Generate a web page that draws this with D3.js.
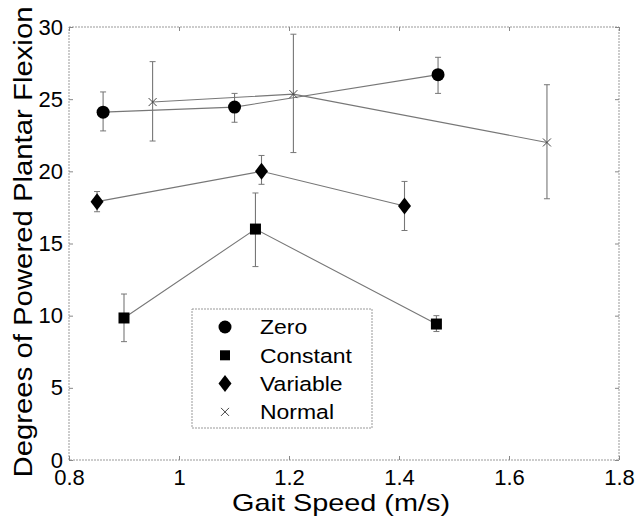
<!DOCTYPE html>
<html><head><meta charset="utf-8">
<script src="https://cdn.jsdelivr.net/npm/d3@7"></script>
<style>body{margin:0;background:#fff}svg{display:block}text{font-family:"Liberation Sans",Arial,sans-serif;fill:#000}</style>
</head><body><svg id="c" width="638" height="519"></svg>
<script>
const seriesNames = ["Zero","Constant","Variable","Normal"];
const zeroX = [0.862, 1.101, 1.471];
const zeroY = [24.1, 24.45, 26.7];
const zeroLo = [22.8, 23.4, 25.4];
const zeroHi = [25.5, 25.4, 27.9];
const constX = [0.90, 1.139, 1.468];
const constY = [9.84, 16.0, 9.42];
const constLo = [8.2, 13.4, 8.9];
const constHi = [11.5, 18.5, 10.0];
const varX = [0.851, 1.150, 1.410];
const varY = [17.9, 20.0, 17.6];
const varLo = [17.2, 19.1, 15.9];
const varHi = [18.6, 21.1, 19.3];
const normX = [0.952, 1.208, 1.669];
const normY = [24.8, 25.35, 22.0];
const normLo = [22.1, 21.3, 18.1];
const normHi = [27.6, 29.5, 26.0];
const xTicks = [0.8, 1, 1.2, 1.4, 1.6, 1.8];
const yTicks = [0, 5, 10, 15, 20, 25, 30];

const svg = d3.select("#c");
const L = 69, R = 619, T = 27, B = 460;
const x = d3.scaleLinear().domain([0.8, 1.8]).range([L, R]);
const y = d3.scaleLinear().domain([0, 30]).range([B, T]);

// frame
svg.append("rect").attr("x", L).attr("y", T).attr("width", R - L).attr("height", B - T)
  .attr("fill", "none").attr("stroke", "#999").attr("stroke-width", 1).attr("stroke-dasharray", "2,1");

// axes
const gx = svg.append("g").attr("transform", `translate(0,${B})`)
  .call(d3.axisBottom(x).tickValues(xTicks).tickFormat(d3.format("")).tickSize(-4).tickPadding(9));
const gxt = svg.append("g").attr("transform", `translate(0,${T})`)
  .call(d3.axisTop(x).tickValues(xTicks).tickFormat("").tickSize(-4));
const gy = svg.append("g").attr("transform", `translate(${L},0)`)
  .call(d3.axisLeft(y).tickValues(yTicks).tickSize(-4).tickPadding(6));
const gyr = svg.append("g").attr("transform", `translate(${R},0)`)
  .call(d3.axisRight(y).tickValues(yTicks).tickFormat("").tickSize(-4));
[gx, gxt, gy, gyr].forEach(g => {
  g.select(".domain").remove();
  g.selectAll(".tick line").attr("stroke", "#888");
  g.selectAll("text").attr("font-size", 22).attr("fill", "#000");
});
gx.selectAll("text").attr("dy", "0.71em");

// axis labels
svg.append("text").attr("x", 341).attr("y", 511).attr("text-anchor", "middle")
  .attr("font-size", 24).attr("textLength", 218).attr("lengthAdjust", "spacingAndGlyphs").text("Gait Speed (m/s)");
svg.append("text").attr("transform", `translate(32,242) rotate(-90)`)
  .attr("text-anchor", "middle").attr("font-size", 26.5).attr("textLength", 471).attr("lengthAdjust", "spacingAndGlyphs")
  .text("Degrees of Powered Plantar Flexion");

const series = [
  {name: "Zero", xs: zeroX, ys: zeroY, lo: zeroLo, hi: zeroHi, sym: "circle"},
  {name: "Constant", xs: constX, ys: constY, lo: constLo, hi: constHi, sym: "square"},
  {name: "Variable", xs: varX, ys: varY, lo: varLo, hi: varHi, sym: "diamond"},
  {name: "Normal", xs: normX, ys: normY, lo: normLo, hi: normHi, sym: "x"}
];

function drawMarker(g, sym, cx, cy, legend) {
  if (sym === "circle") g.append("circle").attr("cx", cx).attr("cy", cy).attr("r", 6.5).attr("fill", "#000");
  else if (sym === "square") { const h = legend ? 5 : 5.5; g.append("rect").attr("x", cx - h).attr("y", cy - h).attr("width", 2*h).attr("height", 2*h).attr("fill", "#000"); }
  else if (sym === "diamond") g.append("path").attr("d", `M${cx},${cy-8.5}L${cx+6.5},${cy}L${cx},${cy+8.5}L${cx-6.5},${cy}Z`).attr("fill", "#000");
  else g.append("path").attr("d", `M${cx-4},${cy-4}L${cx+4},${cy+4}M${cx-4},${cy+4}L${cx+4},${cy-4}`).attr("stroke", "#444").attr("stroke-width", 1);
}

const line = d3.line().x(d => x(d[0])).y(d => y(d[1]));
series.forEach(s => {
  const g = svg.append("g");
  const pts = s.xs.map((v, i) => [v, s.ys[i]]);
  g.append("path").attr("d", line(pts)).attr("fill", "none").attr("stroke", "#777").attr("stroke-width", 1.1);
  s.xs.forEach((v, i) => {
    const cx = x(v);
    g.append("line").attr("x1", cx).attr("x2", cx).attr("y1", y(s.lo[i])).attr("y2", y(s.hi[i])).attr("stroke", "#777").attr("stroke-width", 1.1);
    [s.lo[i], s.hi[i]].forEach(e => g.append("line").attr("x1", cx - 3).attr("x2", cx + 3).attr("y1", y(e)).attr("y2", y(e)).attr("stroke", "#777").attr("stroke-width", 1));
    drawMarker(g, s.sym, cx, y(s.ys[i]), false);
  });
});

// legend
const lg = svg.append("g");
lg.append("rect").attr("x", 192).attr("y", 309).attr("width", 180).attr("height", 119)
  .attr("fill", "#fff").attr("stroke", "#999").attr("stroke-dasharray", "2,1");
series.forEach((s, i) => {
  const cy = 327 + i * 28.3;
  drawMarker(lg, s.sym, 225, cy, true);
  const t = lg.append("text").attr("x", 260).attr("y", cy).attr("dy", "0.36em").attr("font-size", 20.5).text(s.name);
  const w = t.node().getComputedTextLength();
  t.attr("textLength", w * 1.12).attr("lengthAdjust", "spacingAndGlyphs");
});
</script></body></html>
